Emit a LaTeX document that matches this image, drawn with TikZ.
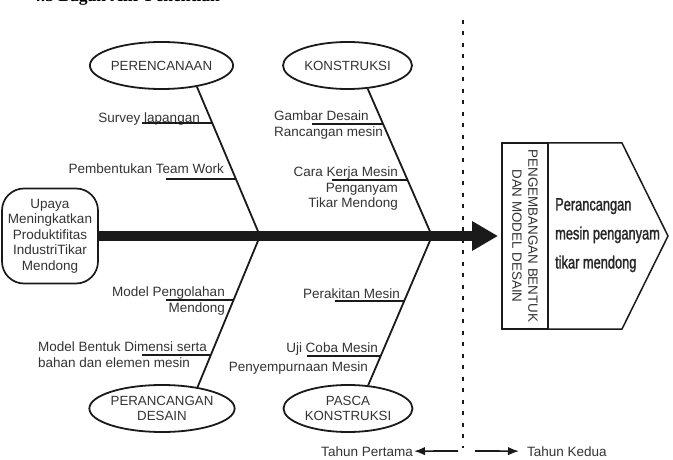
\documentclass[tikz,border=0pt]{standalone}
\usepackage{fontspec}
\setmainfont{Liberation Sans}
\newfontfamily\titlefont{Liberation Serif}
\newfontfamily\narrowfont{Liberation Sans}[FakeStretch=0.72,FakeBold=1.4]
\usetikzlibrary{shapes.geometric,arrows.meta}
\definecolor{txtgray}{HTML}{333333}
\definecolor{linecol}{HTML}{1A1A1A}
\begin{document}
\begin{tikzpicture}[x=1pt,y=-1pt,
  lbl/.style={inner sep=0pt, text=txtgray, font=\fontsize{13.5}{15.5}\selectfont},
  oval/.style={ellipse, draw=linecol, line width=1.8pt, minimum width=129pt,
    minimum height=47pt, inner sep=0pt, text=txtgray,
    font=\fontsize{13.3}{15}\selectfont, align=center},
  bone/.style={draw=linecol, line width=1.8pt},
  uline/.style={draw=linecol, line width=1.5pt},
  smallarrow/.style={draw=linecol, line width=1.7pt, -{Latex[length=11pt,width=8.5pt]}},
 ]
\useasboundingbox (0,0) rectangle (673,460);

% title (clipped at top)
\node[anchor=base west, inner sep=0pt, font={\titlefont\bfseries\fontsize{17.5}{20}\selectfont}] (title) at (32,2) {4.3 Bagan Alir Penelitian};

% start box
\node[draw=linecol, line width=1.7pt, rounded corners=22pt, minimum width=96pt,
  minimum height=95pt, align=center, lbl] (upaya) at (50,236)
  {Upaya\\Meningkatkan\\Produktifitas\\IndustriTikar\\Mendong};

% spine
\coordinate (tip) at (498,236);
\draw[linecol, line width=10pt, -{Triangle[length=26pt,width=28pt]}] (upaya.east) -- (tip);

% ellipses
\node[oval] (plan) at (161.5,65.5) {PERENCANAAN};
\node[oval] (kons) at (347.5,65.5) {KONSTRUKSI};
\node[oval] (desn) at (162,408.5) {PERANCANGAN\\DESAIN};
\node[oval] (pasca) at (348,408.5) {PASCA\\KONSTRUKSI};

% bones
\coordinate (j1) at (260,236);
\coordinate (j2) at (432,236);
\draw[bone] (plan.-31) -- (j1) -- (desn.31);
\draw[bone] (kons.-49) -- (j2) -- (pasca.49);

% labels, upper left
\node[lbl, anchor=base east] (l1) at (200,122) {Survey lapangan};
\draw[uline] (142,123) -- (211.6,123);
\node[lbl, anchor=base east] (l2) at (224,173) {Pembentukan Team Work};
\draw[uline] (166,179) -- (235.6,179);

% labels, upper middle
\node[lbl, anchor=north west, align=left] (l3) at (274,111) {Gambar Desain\\Rancangan mesin};
\draw[uline] (312,124) -- (383.1,124);
\node[lbl, anchor=north east, align=right] (l4) at (398,167) {Cara Kerja Mesin\\Penganyam\\Tikar Mendong};
\draw[uline] (332,180) -- (407.5,180);

% labels, lower left
\node[lbl, anchor=north east, align=right] (l5) at (225,287) {Model Pengolahan\\Mendong};
\draw[uline] (166,300) -- (233.2,300);
\node[lbl, anchor=north west, align=left] (l6) at (38,342) {Model Bentuk Dimensi serta\\bahan dan elemen mesin};
\draw[uline] (142,355) -- (210.1,355);

% labels, lower middle
\node[lbl, anchor=base east] (l7) at (400,298) {Perakitan Mesin};
\draw[uline] (335,301) -- (404.2,301);
\node[lbl, anchor=base east] (l8) at (378,352) {Uji Coba Mesin};
\node[lbl, anchor=base east] (l9) at (368,371) {Penyempurnaan Mesin};
\draw[uline] (307,356) -- (380.6,356);

% divider
\coordinate (d1) at (463,20);
\coordinate (d2) at (463,448);
\draw[linecol, line width=1.8pt, dash pattern=on 4pt off 7.5pt] (d1) -- (d2);

% result
\node[draw=linecol, line width=1.5pt, rotate=-90, minimum width=186pt,
  minimum height=46pt, inner sep=0pt, align=center, text=txtgray,
  font=\fontsize{13.4}{16}\selectfont] (pbox) at (525,236)
  {PENGEMBANGAN BENTUK\\DAN MODEL DESAIN};
\coordinate (p1) at (548,143);
\coordinate (p2) at (622,143);
\coordinate (p3) at (668,236);
\coordinate (p4) at (622,329);
\coordinate (p5) at (548,329);
\draw[linecol, line width=1.5pt, line join=miter] (p1) -- (p2) -- (p3) -- (p4) -- (p5) -- cycle;
\node[anchor=north west, inner sep=0pt, align=left, text=black!85,
  font={\narrowfont\fontsize{17.8}{29}\selectfont}] (res) at (555,198)
  {Perancangan\\mesin penganyam\\tikar mendong};

% years
\node[lbl, anchor=base east] (t1) at (413,456) {Tahun Pertama};
\node[lbl, anchor=base west] (t2) at (527,456) {Tahun Kedua};
\coordinate (a1) at (458,451);
\coordinate (a2) at (475,451);
\draw[smallarrow] (a1) -- ([xshift=1pt]t1.east);
\draw[smallarrow] (a2) -- ([xshift=-8pt]t2.west);
\end{tikzpicture}
\end{document}
